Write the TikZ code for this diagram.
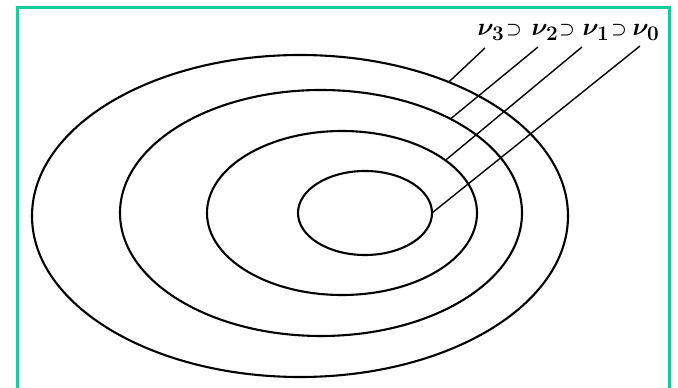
\documentclass[tikz,border=0pt]{standalone}
\usepackage{amsmath,amssymb,bm}
\usetikzlibrary{shapes.geometric}
\definecolor{frameGreen}{RGB}{22,204,152}
\tikzset{
  ring/.style={ellipse, draw=black, line width=2.1pt, inner sep=0pt, outer sep=0pt},
  leader/.style={draw=black, line width=1.4pt},
  nulab/.style={inner sep=0pt, font=\fontsize{28}{28}\selectfont\boldmath, anchor=base},
  suplab/.style={inner sep=0pt, font=\fontsize{18}{18}\selectfont\boldmath, anchor=base}
}
\begin{document}
\begin{tikzpicture}[x=1pt,y=1pt]
\useasboundingbox (0,0) rectangle (678,388);
\draw[frameGreen, line width=3pt] (17.5,-10) rectangle (669.5,380);
% rings
\node[ring, minimum width=536pt, minimum height=322pt] (r3) at (300,172) {};
\node[ring, minimum width=402pt, minimum height=246pt] (r2) at (321,175) {};
\node[ring, minimum width=270pt, minimum height=164pt] (r1) at (342,175) {};
\node[ring, minimum width=134pt, minimum height=84pt] (r0) at (365,175) {};
% labels
\node[nulab] (n3) at (491,352) {$\nu_3$};
\node[suplab] (s1) at (514,353) {$\supset$};
\node[nulab] (n2) at (545,352) {$\nu_2$};
\node[suplab] (s2) at (567,353) {$\supset$};
\node[nulab] (n1) at (596,352) {$\nu_1$};
\node[suplab] (s3) at (619,353) {$\supset$};
\node[nulab] (n0) at (646,352) {$\nu_0$};
% leader ends
\coordinate (e3) at (485,340);
\coordinate (e2) at (538,341);
\coordinate (e1) at (582,341);
\coordinate (e0) at (640,342);
\draw[leader] (r3.42.8) -- (e3);
\draw[leader] (r2.36) -- (e2);
\draw[leader] (r1.27.4) -- (e1);
\draw[leader] (r0.east) -- (e0);
\end{tikzpicture}
\end{document}
